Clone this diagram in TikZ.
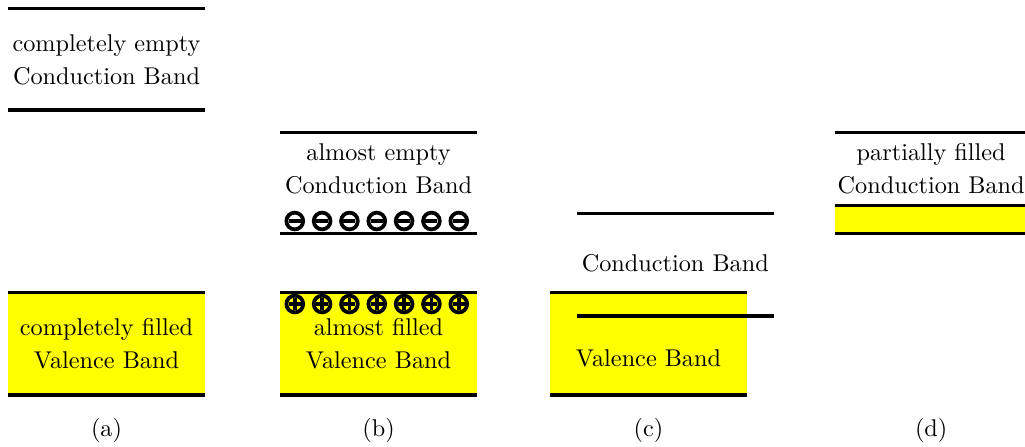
\documentclass[tikz,border=0pt]{standalone}
\usepackage{amsmath,amssymb}
\usepackage{tikz}
\usetikzlibrary{positioning, calc}

\definecolor{bandyellow}{RGB}{255,255,0}
\tikzset{
    band/.style={line width=1.3pt},
    charge/.style={line width=1.6pt},
    bandtext/.style={align=center, inner sep=0pt, font=\fontsize{10.3}{14.2}\selectfont},
    sublabel/.style={font=\fontsize{10.3}{12}\selectfont},
}

\begin{document}
\begin{tikzpicture}
    \useasboundingbox (0,0) rectangle (15.30,6.672);

    % (a) completely empty / completely filled
    \fill[bandyellow] (0.12,0.776) rectangle (3.06,2.30);
    \draw[band] (0.12,6.55) -- (3.06,6.55);
    \draw[band] (0.12,5.03) -- (3.06,5.03);
    \draw[band] (0.12,2.30) -- (3.06,2.30);
    \draw[band] (0.12,0.776) -- (3.06,0.776);
    \node[bandtext] (cba) at (1.59, 5.78) {completely empty\\Conduction Band};
    \node[bandtext] (vba) at (1.59, 1.54) {completely filled\\Valence Band};
    \node[sublabel] (laba) at (1.59, 0.24) {(a)};

    % (b) almost empty / almost filled
    \fill[bandyellow] (4.18,0.776) rectangle (7.12,2.30);
    \draw[band] (4.18,4.70) -- (7.12,4.70);
    \draw[band] (4.18,3.18) -- (7.12,3.18);
    \draw[band] (4.18,2.30) -- (7.12,2.30);
    \draw[band] (4.18,0.776) -- (7.12,0.776);
    \node[bandtext] (cbb) at (5.65, 4.15) {almost empty\\Conduction Band};
    \node[bandtext] (vbb) at (5.65, 1.54) {almost filled\\Valence Band};
    \node[sublabel] (labb) at (5.65, 0.24) {(b)};
    % electrons and holes
    \foreach \i in {0,...,6} {
        \draw[charge] (4.40+0.408*\i, 3.373) circle (0.125);
        \draw[charge] (4.31+0.408*\i, 3.373) -- ++(0.18,0);
        \draw[charge] (4.40+0.408*\i, 2.134) circle (0.125);
        \draw[charge] (4.31+0.408*\i, 2.134) -- ++(0.18,0);
        \draw[charge] (4.40+0.408*\i, 2.044) -- ++(0,0.18);
    }

    % (c) overlapping bands
    \fill[bandyellow] (8.21,0.776) rectangle (11.15,2.30);
    \draw[band] (8.61,3.49) -- (11.55,3.49);
    \draw[band] (8.21,2.30) -- (11.15,2.30);
    \draw[band] (8.61,1.955) -- (11.55,1.955);
    \draw[band] (8.21,0.776) -- (11.15,0.776);
    \node[bandtext] (cbc) at (10.08, 2.75) {Conduction Band};
    \node[bandtext] (vbc) at (9.68, 1.33) {Valence Band};
    \node[sublabel] (labc) at (9.68, 0.24) {(c)};

    % (d) partially filled
    \fill[bandyellow] (12.46,3.18) rectangle (15.40,3.60);
    \draw[band] (12.46,4.70) -- (15.40,4.70);
    \draw[band] (12.46,3.60) -- (15.40,3.60);
    \draw[band] (12.46,3.18) -- (15.40,3.18);
    \node[bandtext] (cbd) at (13.90, 4.15) {partially filled\\Conduction Band};
    \node[sublabel] (labd) at (13.90, 0.24) {(d)};

\end{tikzpicture}
\end{document}
